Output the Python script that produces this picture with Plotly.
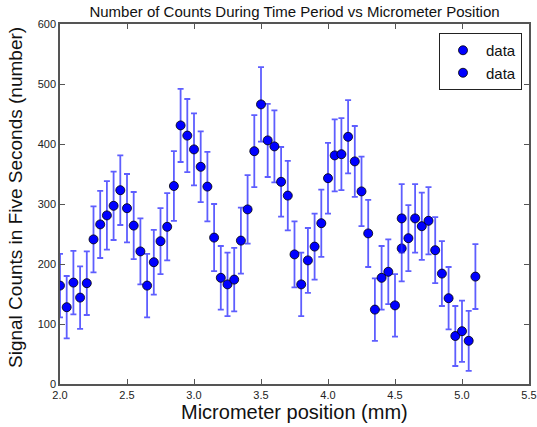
import plotly.graph_objects as go

# Series 1
x1 = [2.00, 2.05, 2.10, 2.15, 2.20, 2.25, 2.30, 2.35, 2.40, 2.45,
      2.50, 2.55, 2.60, 2.65, 2.70, 2.75, 2.80, 2.85, 2.90, 2.95,
      3.00, 3.05, 3.10, 3.15, 3.20, 3.25, 3.30, 3.35, 3.40, 3.45,
      3.50, 3.55, 3.60, 3.65, 3.70, 3.75, 3.80, 3.85, 3.90, 3.95,
      4.00, 4.05, 4.10, 4.15, 4.20, 4.25, 4.30, 4.35, 4.40, 4.45,
      4.50, 4.55]
y1 = [164, 128, 169, 144, 168, 241, 266, 281, 297, 323,
      293, 264, 221, 164, 203, 238, 262, 330, 431, 414,
      391, 362, 329, 244, 177, 166, 174, 239, 291, 388,
      466, 406, 396, 337, 314, 216, 166, 206, 229, 268,
      343, 381, 383, 412, 371, 321, 251, 124, 177, 187,
      131, 226]
e1 = [53, 52, 53, 52, 53, 55, 56, 57, 57, 58,
      57, 56, 55, 53, 54, 55, 56, 58, 61, 61,
      60, 59, 58, 56, 53, 53, 53, 55, 57, 60,
      62, 61, 60, 58, 58, 55, 53, 54, 55, 56,
      59, 60, 60, 61, 59, 58, 56, 52, 53, 54,
      52, 55]

# Series 2
x2 = [4.55, 4.60, 4.65, 4.70, 4.75, 4.80, 4.85, 4.90, 4.95, 5.00, 5.05, 5.10]
y2 = [276, 243, 276, 263, 272, 223, 184, 143, 80, 88, 72, 179]
e2 = [57, 55, 57, 56, 56, 55, 54, 52, 50, 51, 50, 54]

x_ticks = [2.0, 2.5, 3.0, 3.5, 4.0, 4.5, 5.0, 5.5]
y_ticks = [0, 100, 200, 300, 400, 500, 600]

title_text = "Number of Counts During Time Period vs Micrometer Position"
x_label = "Micrometer position (mm)"
y_label = "Signal Counts in Five Seconds (number)"

FONT = "Liberation Sans, Arial, sans-serif"
W, H = 537, 427
L, R, T, B = 60, 8, 24, 43
PW, PH = W - L - R, H - T - B

fig = go.Figure()
for xs, ys, es in [(x1, y1, e1), (x2, y2, e2)]:
    fig.add_trace(go.Scatter(
        x=xs, y=ys, mode="markers", name="data",
        marker=dict(color="#0000ff", size=9, line=dict(color="#000000", width=0.8)),
        error_y=dict(type="data", array=es, visible=True,
                     color="rgba(40,40,255,0.75)", thickness=1.8, width=3),
    ))

axis_common = dict(
    showline=True, linecolor="#555555", linewidth=1.5, mirror="allticks",
    ticks="inside", ticklen=5, tickwidth=1, tickcolor="#555555",
    showgrid=False, zeroline=False, automargin=False,
    tickfont=dict(family=FONT, size=11, color="#222222"),
)

fig.update_xaxes(
    range=[2.0, 5.5], tickvals=x_ticks, ticktext=[f"{v:.1f}" for v in x_ticks],
    **axis_common,
)
fig.update_yaxes(
    range=[0, 600], tickvals=y_ticks, ticktext=[str(v) for v in y_ticks],
    **axis_common,
)

fig.add_annotation(text=x_label, xref="paper", yref="paper",
                   x=0.5, y=-(412 - 384) / PH, xanchor="center", yanchor="middle",
                   showarrow=False, font=dict(family=FONT, size=20, color="#111111"))
fig.add_annotation(text=y_label, xref="paper", yref="paper", textangle=-90,
                   x=-(60 - 16) / PW, y=(384 - 198) / PH,
                   xanchor="center", yanchor="middle",
                   showarrow=False, font=dict(family=FONT, size=19, color="#111111"))

fig.update_layout(
    width=W, height=H,
    margin=dict(l=L, r=R, t=T, b=B, autoexpand=False),
    paper_bgcolor="white", plot_bgcolor="white",
    title=dict(text=title_text, font=dict(family=FONT, size=15, color="#111111"),
               x=(L + PW / 2) / W, xanchor="center", y=1 - 12 / H, yanchor="middle"),
    showlegend=True,
    legend=dict(x=1 - 7 / PW, y=1 - 9 / PH, xanchor="right", yanchor="top",
                bordercolor="#222222", borderwidth=1, bgcolor="white",
                font=dict(family=FONT, size=15, color="#111111"),
                tracegroupgap=0, itemwidth=36),
)

# remove the browser's default page margin so the figure sits at the page origin
fig.write_html(
    "out.html",
    config={"displayModeBar": False},
    post_script="document.body.style.margin='0';document.documentElement.style.overflow='hidden';",
)
